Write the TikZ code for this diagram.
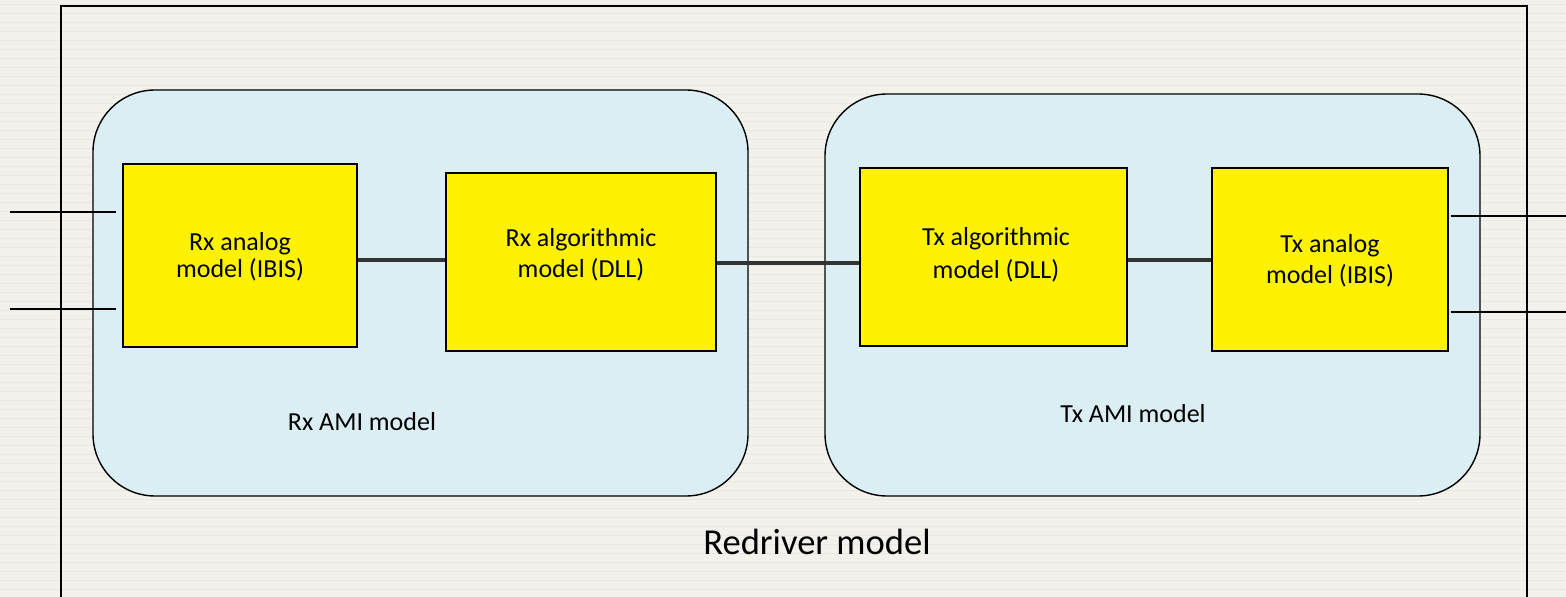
\documentclass[tikz,border=0pt]{standalone}
\usepackage{fontspec}
\setmainfont{Carlito}
\definecolor{bgc}{HTML}{F2F1EC}
\definecolor{bgl}{HTML}{E8E7E2}
\definecolor{amic}{HTML}{DAEEF3}
\definecolor{conc}{HTML}{333333}
\tikzset{
  amibox/.style={draw=black, line width=0.8pt, fill=amic, rounded corners=1.24cm},
  blk/.style={draw=black, line width=0.9pt, fill=yellow, inner sep=0pt},
  btxt/.style={font=\fontsize{14.8pt}{17pt}\selectfont, inner sep=0pt, anchor=base},
  conn/.style={draw=conc, line width=1.75pt},
  pin/.style={draw=black, line width=0.85pt},
}
\begin{document}
\begin{tikzpicture}[x=0.02cm,y=-0.02cm]
\useasboundingbox (0,0) rectangle (1566,597);
\fill[bgc] (0,0) rectangle (1566,597);
\foreach \yy in {4,13,...,597} \draw[bgl, line width=0.5pt] (0,\yy) -- (1566,\yy);
% outer redriver frame
\begin{scope}
\clip (0,0) rectangle (1566,597);
\draw[line width=1.15pt] (61,6) rectangle (1527,610);
\end{scope}
\node[btxt, font=\fontsize{20.8pt}{24pt}\selectfont] (redr) at (817,554.5) {Redriver model};
% AMI groups
\draw[amibox] (93,90) rectangle (748,496);
\draw[amibox] (825,94) rectangle (1480,496);
\node[btxt] (rxami) at (362,431) {Rx AMI model};
\node[btxt] (txami) at (1133,423) {Tx AMI model};
% blocks
\node[blk, minimum width=234*0.02cm, minimum height=183*0.02cm] (ra) at (240,255.5) {};
\node[blk, minimum width=270*0.02cm, minimum height=178*0.02cm] (rg) at (581,262) {};
\node[blk, minimum width=267*0.02cm, minimum height=178*0.02cm] (tg) at (993.5,257) {};
\node[blk, minimum width=236*0.02cm, minimum height=183*0.02cm] (ta) at (1330,259.5) {};
\node[btxt] (ra1) at (240,251) {Rx analog};
\node[btxt] (ra2) at (240,278) {model (IBIS)};
\node[btxt] (rg1) at (581,246.5) {Rx algorithmic};
\node[btxt] (rg2) at (581,278) {model (DLL)};
\node[btxt] (tg1) at (996,246) {Tx algorithmic};
\node[btxt] (tg2) at (996,279) {model (DLL)};
\node[btxt] (ta1) at (1330,252.5) {Tx analog};
\node[btxt] (ta2) at (1330,284) {model (IBIS)};
% connectors
\draw[conn] ([yshift=-4.5*0.02cm]ra.east) -- ([yshift=-4.5*0.02cm]ra.east -| rg.west);
\draw[conn] ([yshift=-1*0.02cm]rg.east) -- ([yshift=-1*0.02cm]rg.east -| tg.west);
\draw[conn] ([yshift=-3*0.02cm]tg.east) -- ([yshift=-3*0.02cm]tg.east -| ta.west);
% pins
\coordinate (in1) at (10,212);
\coordinate (in2) at (10,309);
\coordinate (out1) at (1566,216);
\coordinate (out2) at (1566,312);
\draw[pin] (in1) -- ([xshift=-6*0.02cm]in1 -| ra.west);
\draw[pin] (in2) -- ([xshift=-6*0.02cm]in2 -| ra.west);
\draw[pin] ([xshift=2*0.02cm]out1 -| ta.east) -- (out1);
\draw[pin] ([xshift=2*0.02cm]out2 -| ta.east) -- (out2);
\end{tikzpicture}
\end{document}
